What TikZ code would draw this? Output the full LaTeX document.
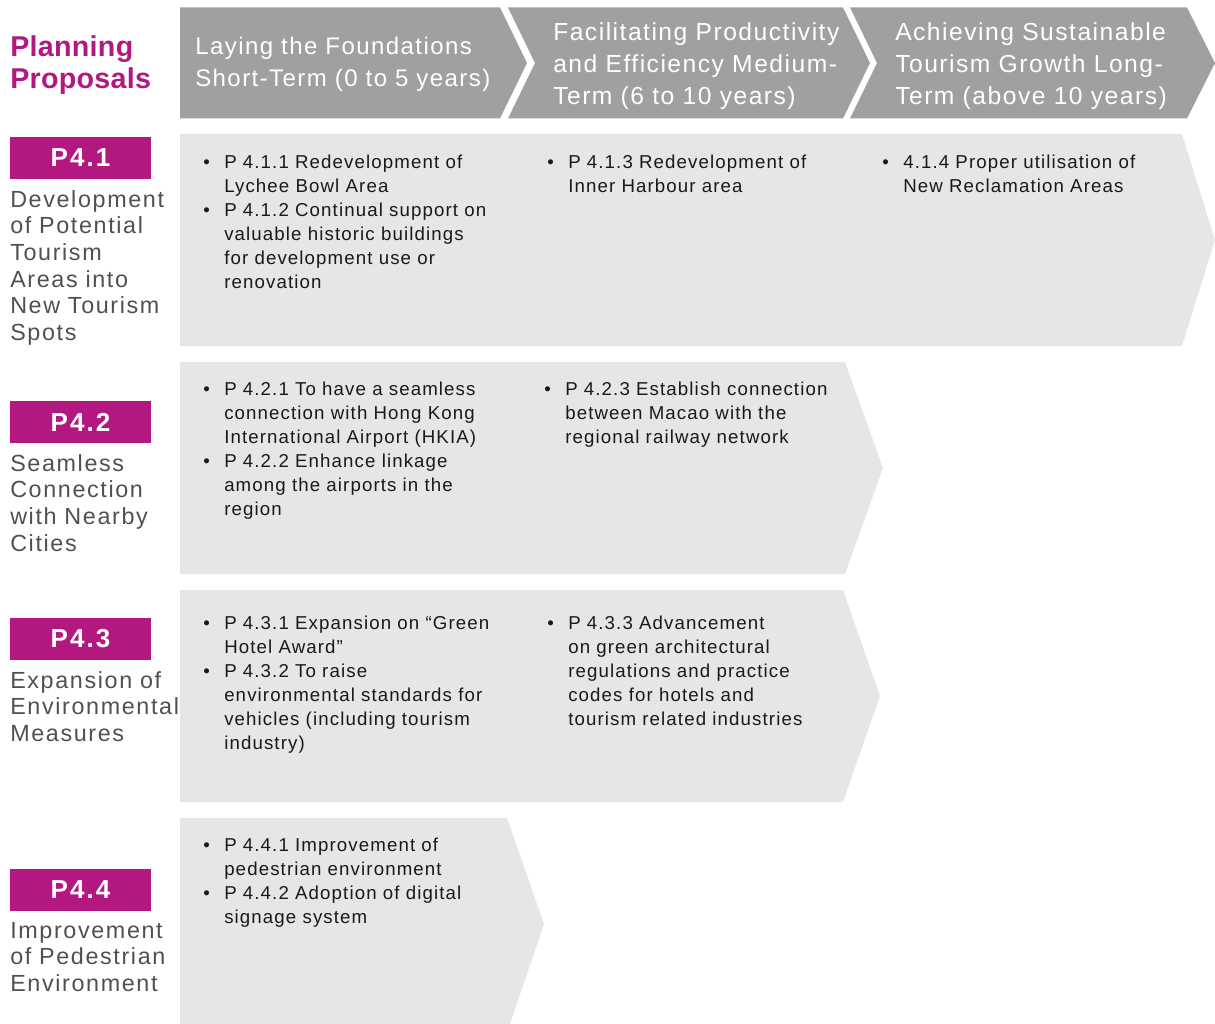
\documentclass[tikz,border=0pt]{standalone}
\usepackage{fontspec}
\setmainfont{Liberation Sans}
\newfontfamily\bodyf[LetterSpace=6]{Liberation Sans}
\newfontfamily\lblf[LetterSpace=7]{Liberation Sans}
\newfontfamily\hdrf[LetterSpace=6]{Liberation Sans}
\newfontfamily\tagf[LetterSpace=8]{Liberation Sans}
\newfontfamily\titf[LetterSpace=1]{Liberation Sans}
\definecolor{mag}{RGB}{178,24,128}
\definecolor{hdrgray}{RGB}{160,160,160}
\definecolor{rowgray}{RGB}{230,230,230}
\definecolor{lblgray}{RGB}{80,80,80}
\definecolor{txtblack}{RGB}{25,25,25}
\begin{document}
\begin{tikzpicture}[x=0.75pt,y=-0.75pt,
  hdrtxt/.style={anchor=base west, inner sep=0, align=left, text width=300pt, text=white,
    font=\hdrf\fontsize{18}{24}\selectfont},
  hdrtxtb/.style={hdrtxt, font=\hdrf\fontsize{18.5}{24}\selectfont},
  title/.style={anchor=base west, inner sep=0, align=left, text width=150pt, text=mag,
    font=\titf\bfseries\fontsize{21.5}{24}\selectfont},
  lbl/.style={anchor=base west, inner sep=0, align=left, text width=150pt, text=lblgray,
    font=\lblf\fontsize{17.5}{20}\selectfont},
  tagbox/.style={fill=mag, text=white, inner sep=0, minimum width=105.75pt, minimum height=31.5pt,
    font=\tagf\bfseries\fontsize{19.5}{22}\selectfont},
  bul/.style={anchor=base west, inner sep=0, text=txtblack, font=\bodyf\fontsize{14}{18}\selectfont},
  itm/.style={anchor=base west, inner sep=0, align=left, text width=260pt, text=txtblack,
    font=\bodyf\fontsize{14}{18}\selectfont},
  hdrshape/.style={fill=hdrgray},
  rowshape/.style={fill=rowgray}
]
\useasboundingbox (0,0) rectangle (1215,1024);
\clip (0,0) rectangle (1215,1024);

% header chevrons
\fill[hdrshape] (180,7.5) -- (500,7.5) -- (527,63) -- (500,118.5) -- (180,118.5) -- cycle;
\fill[hdrshape] (508,7.5) -- (843,7.5) -- (870,63) -- (843,118.5) -- (508,118.5) -- (535,63) -- cycle;
\fill[hdrshape] (850,7.5) -- (1187,7.5) -- (1215,63) -- (1187,118.5) -- (850,118.5) -- (877,63) -- cycle;

% row chevrons
\fill[rowshape] (180,134) -- (1182,134) -- (1215,240) -- (1182,346) -- (180,346) -- cycle;
\fill[rowshape] (180,362) -- (845,362) -- (883,468) -- (845,574) -- (180,574) -- cycle;
\fill[rowshape] (180,590) -- (843,590) -- (880,696) -- (843,802) -- (180,802) -- cycle;
\fill[rowshape] (180,818) -- (507,818) -- (544,924) -- (508,1030) -- (180,1030) -- cycle;

% title
\node[title] (title) at (10,56.7) {Planning\\Proposals};

% headers
\node[hdrtxt] (h1) at (195,54.3) {Laying the Foundations\\Short-Term (0 to 5 years)};
\node[hdrtxtb] (h2) at (553,40.5) {Facilitating Productivity\\and Efficiency Medium-\\Term (6 to 10 years)};
\node[hdrtxtb] (h3) at (895,40.5) {Achieving Sustainable\\Tourism Growth Long-\\Term (above 10 years)};

% tags
\node[tagbox] (p1) at (80.5,158) {P4.1};
\node[tagbox] (p2) at (80.5,422) {P4.2};
\node[tagbox] (p3) at (80.5,639) {P4.3};
\node[tagbox] (p4) at (80.5,890) {P4.4};

% labels
\node[lbl] (l1) at (10,207) {Development\\of Potential\\Tourism\\Areas into\\New Tourism\\Spots};
\node[lbl] (l2) at (10,471) {Seamless\\Connection\\with Nearby\\Cities};
\node[lbl] (l3) at (10,688) {Expansion of\\Environmental\\Measures};
\node[lbl] (l4) at (10,938) {Improvement\\of Pedestrian\\Environment};

% row 1
\node[bul] (b11a) at (203,168.3) {•};
\node[itm] (t11a) at (224,168.3) {P 4.1.1 Redevelopment of\\Lychee Bowl Area};
\node[bul] (b11b) at (203,216.3) {•};
\node[itm] (t11b) at (224,216.3) {P 4.1.2 Continual support on\\valuable historic buildings\\for development use or\\renovation};
\node[bul] (b12a) at (547,168.3) {•};
\node[itm] (t12a) at (568,168.3) {P 4.1.3 Redevelopment of\\Inner Harbour area};
\node[bul] (b13a) at (882,168.3) {•};
\node[itm] (t13a) at (903,168.3) {4.1.4 Proper utilisation of\\New Reclamation Areas};

% row 2
\node[bul] (b21a) at (203,395.5) {•};
\node[itm] (t21a) at (224,395.5) {P 4.2.1 To have a seamless\\connection with Hong Kong\\International Airport (HKIA)};
\node[bul] (b21b) at (203,467.5) {•};
\node[itm] (t21b) at (224,467.5) {P 4.2.2 Enhance linkage\\among the airports in the\\region};
\node[bul] (b22a) at (544,395.5) {•};
\node[itm] (t22a) at (565,395.5) {P 4.2.3 Establish connection\\between Macao with the\\regional railway network};

% row 3
\node[bul] (b31a) at (203,629.5) {•};
\node[itm] (t31a) at (224,629.5) {P 4.3.1 Expansion on “Green\\Hotel Award”};
\node[bul] (b31b) at (203,677.5) {•};
\node[itm] (t31b) at (224,677.5) {P 4.3.2 To raise\\environmental standards for\\vehicles (including tourism\\industry)};
\node[bul] (b32a) at (547,629.5) {•};
\node[itm] (t32a) at (568,629.5) {P 4.3.3 Advancement\\on green architectural\\regulations and practice\\codes for hotels and\\tourism related industries};

% row 4
\node[bul] (b41a) at (203,851.5) {•};
\node[itm] (t41a) at (224,851.5) {P 4.4.1 Improvement of\\pedestrian environment};
\node[bul] (b41b) at (203,899.5) {•};
\node[itm] (t41b) at (224,899.5) {P 4.4.2 Adoption of digital\\signage system};
\end{tikzpicture}
\end{document}
